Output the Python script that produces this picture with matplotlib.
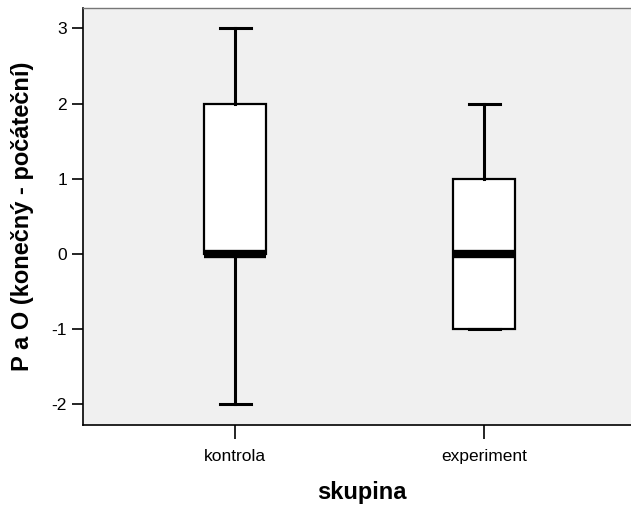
import matplotlib
matplotlib.use("Agg")
import matplotlib.pyplot as plt

plt.rcParams['font.family'] = ['Liberation Sans', 'DejaVu Sans']

categories = ["kontrola", "experiment"]
whisker_low = [-2, -1]
q1 = [0, -1]
median = [0, 0]
q3 = [2, 1]
whisker_high = [3, 2]
yticks = [-2, -1, 0, 1, 2, 3]

fig = plt.figure(figsize=(6.31, 5.07), dpi=100)
W, H = 631, 507
ax = fig.add_axes([83 / W, 1 - 425 / H, (631 - 83) / W, (425 - 8) / H])
ax.set_facecolor("#f0f0f0")

stats = []
for i, c in enumerate(categories):
    stats.append(dict(label=c, whislo=whisker_low[i], q1=q1[i], med=median[i],
                      q3=q3[i], whishi=whisker_high[i], fliers=[]))

ax.bxp(stats, positions=[1, 2], widths=0.25, showfliers=False, patch_artist=True,
       boxprops=dict(facecolor="white", edgecolor="black", linewidth=1.6),
       medianprops=dict(color="black", linewidth=6, solid_capstyle="butt"),
       whiskerprops=dict(color="black", linewidth=2.2),
       capprops=dict(color="black", linewidth=2.2),
       capwidths=0.125)

ax.set_xlim(0.388, 2.59)
ax.set_ylim(-2.275, 3.27)
ax.set_yticks(yticks)
ax.set_yticklabels([str(v) for v in yticks])
ax.set_xticks([1, 2])
ax.set_xticklabels(categories)

ax.tick_params(axis="y", direction="out", length=8, width=1.2, labelsize=12.5, pad=3.5)
ax.tick_params(axis="x", direction="out", length=10, width=1.2, labelsize=12.5, pad=7)

for s in ["left", "bottom"]:
    ax.spines[s].set_linewidth(1.2)
    ax.spines[s].set_color("black")
ax.spines["top"].set_color("#777777")
ax.spines["top"].set_linewidth(1.0)
ax.spines["right"].set_visible(False)

ax.set_xlabel("skupina", fontsize=17, fontweight="bold", va="top")
ax.xaxis.set_label_coords(0.508, -0.134)
ax.set_ylabel("P a O (konečný - počáteční)", fontsize=17, fontweight="bold", va="center")
ax.yaxis.set_label_coords(-0.1095, 0.5)

fig.savefig("out.png", dpi=100)
